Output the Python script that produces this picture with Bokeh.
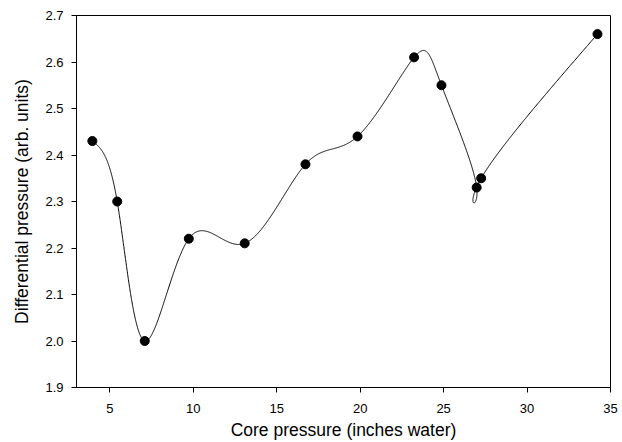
import numpy as np
from bokeh.plotting import figure
from bokeh.models import Range1d, FixedTicker, PrintfTickFormatter
from bokeh.embed import file_html
from bokeh.resources import INLINE

# Data
core_pressure = [3.95, 5.44, 7.09, 9.73, 13.08, 16.72, 19.84, 23.23, 24.87, 26.98, 27.25, 34.22]
diff_pressure = [2.43, 2.30, 2.00, 2.22, 2.21, 2.38, 2.44, 2.61, 2.55, 2.33, 2.35, 2.66]
x_ticks = [5, 10, 15, 20, 25, 30, 35]
y_ticks = [1.9, 2.0, 2.1, 2.2, 2.3, 2.4, 2.5, 2.6, 2.7]


def natural_spline(t, v, tt):
    t = np.asarray(t, float)
    v = np.asarray(v, float)
    n = len(t)
    h = np.diff(t)
    A = np.zeros((n, n))
    r = np.zeros(n)
    A[0, 0] = 1.0
    A[-1, -1] = 1.0
    for i in range(1, n - 1):
        A[i, i - 1] = h[i - 1]
        A[i, i] = 2 * (h[i - 1] + h[i])
        A[i, i + 1] = h[i]
        r[i] = 3 * ((v[i + 1] - v[i]) / h[i] - (v[i] - v[i - 1]) / h[i - 1])
    c = np.linalg.solve(A, r)
    b = (v[1:] - v[:-1]) / h - h * (2 * c[:-1] + c[1:]) / 3
    d = (c[1:] - c[:-1]) / (3 * h)
    idx = np.clip(np.searchsorted(t, tt, side="right") - 1, 0, n - 2)
    dt = tt - t[idx]
    return v[idx] + b[idx] * dt + c[idx] * dt ** 2 + d[idx] * dt ** 3


t = np.arange(len(core_pressure), dtype=float)
tt = np.linspace(0, t[-1], 1500)
sx = natural_spline(t, core_pressure, tt)
sy = natural_spline(t, diff_pressure, tt)

p = figure(width=622, height=442, output_backend="svg", toolbar_location=None,
           x_range=Range1d(3, 35), y_range=Range1d(1.9, 2.7),
           min_border_left=76, min_border_right=12, min_border_top=15, min_border_bottom=54)

p.line(sx, sy, line_color="black", line_width=1)
p.scatter(core_pressure, diff_pressure, size=9, fill_color="black", line_color="black")

p.xgrid.visible = False
p.ygrid.visible = False
p.outline_line_color = "black"
p.outline_line_width = 1
p.outline_line_alpha = 1
p.background_fill_color = "white"
p.border_fill_color = "white"

p.xaxis.ticker = FixedTicker(ticks=x_ticks)
p.yaxis.ticker = FixedTicker(ticks=y_ticks)
p.xaxis.formatter = PrintfTickFormatter(format="%d")
p.yaxis.formatter = PrintfTickFormatter(format="%.1f")
p.xaxis.axis_label = "Core pressure (inches water)"
p.yaxis.axis_label = "Differential pressure (arb. units)"

for ax in (p.xaxis, p.yaxis):
    ax.axis_line_color = "black"
    ax.major_tick_line_color = "black"
    ax.major_tick_out = 5
    ax.major_tick_in = 0
    ax.minor_tick_line_color = None
    ax.major_label_text_font = "Liberation Sans"
    ax.major_label_text_font_size = "13px"
    ax.major_label_text_color = "black"
    ax.axis_label_text_font = "Liberation Sans"
    ax.axis_label_text_font_size = "17.5px"
    ax.axis_label_text_font_style = "normal"
    ax.axis_label_text_color = "black"
    ax.major_label_standoff = 8

p.xaxis.major_label_standoff = 11
p.xaxis.axis_label_standoff = 4
p.yaxis.axis_label_standoff = 10

open("out.html", "w").write(file_html(p, INLINE))
